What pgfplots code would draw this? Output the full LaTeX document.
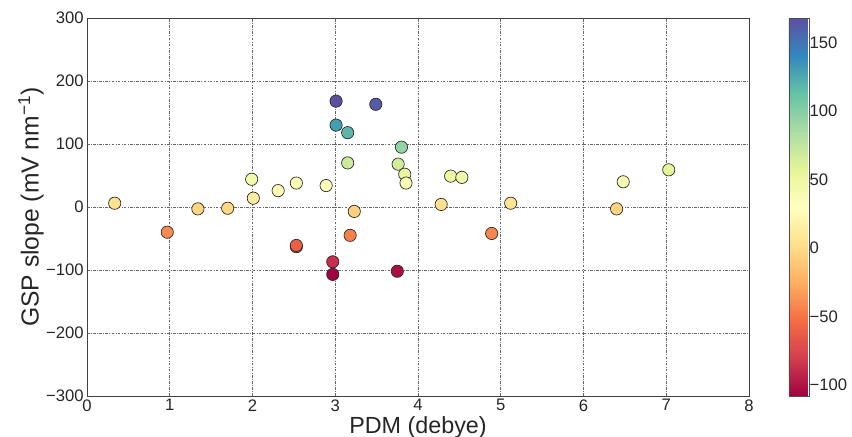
\documentclass[border=0pt]{standalone}
\usepackage{fontspec}
\setmainfont{Liberation Sans}
\usepackage{pgfplots}
\pgfplotsset{compat=1.18}

% matplotlib "Spectral"
\pgfplotsset{colormap={spectral}{
  rgb255=(158,1,66) rgb255=(213,62,79) rgb255=(244,109,67) rgb255=(253,174,97)
  rgb255=(254,224,139) rgb255=(255,255,191) rgb255=(230,245,152) rgb255=(171,221,164)
  rgb255=(102,194,165) rgb255=(50,136,189) rgb255=(94,79,162)}}

\begin{document}
\begin{tikzpicture}
\begin{axis}[
    scale only axis,
    width=496.5pt, height=283.5pt,
    xmin=0, xmax=8, ymin=-300, ymax=300,
    xtick={0,1,...,8},
    ytick={-300,-200,...,300},
    yticklabels={−300,−200,−100,0,100,200,300},
    /pgf/number format/assume math mode=true,
    ticklabel style={font=\fontsize{12.5}{14}\selectfont, text=black!85},
    major tick length=0pt,
    xticklabel style={yshift=1pt},
    yticklabel style={xshift=1pt},
    grid=major,
    major grid style={black!60, line width=0.4pt, dash pattern=on 2pt off 1pt on 0.6pt off 1pt},
    axis line style={black!75, line width=0.6pt},
    xlabel={PDM (debye)},
    ylabel={GSP slope (mV nm\textsuperscript{−1})},
    xlabel style={font=\fontsize{17.5}{20}\selectfont, text=black!85,
        at={(axis description cs:0.5,-0.082)}, anchor=center},
    ylabel style={font=\fontsize{18.5}{21}\selectfont, text=black!85,
        at={(axis description cs:-0.0846,0.5)}, anchor=center},
    colormap name=spectral,
    point meta min=-108, point meta max=168,
    colorbar,
    colorbar style={
        at={(1.0604,1)}, anchor=north west,
        width=15pt,
        ytick={-100,-50,...,150},
        yticklabels={−100,−50,0,50,100,150},
        major tick length=0pt,
        yticklabel style={font=\fontsize{12.5}{14}\selectfont, text=black!85, xshift=-3pt},
        axis line style={black!70, line width=0.5pt},
    },
]
\addplot[scatter, only marks, scatter src=explicit,
    mark=*, mark size=4.6pt,
    scatter/use mapped color={draw=black!85, fill=mapped color},
    mark options={line width=0.5pt}]
table[meta index=1] {
x y
0.335 6
0.97 -40
1.34 -3
1.70 -2
1.99 44
2.01 14
2.31 26
2.53 38
2.53 -63
2.53 -61
2.89 34
2.97 -87
2.97 -107
3.01 168
3.01 130
3.15 118
3.15 70
3.18 -45
3.23 -7
3.49 163
3.75 -102
3.76 68
3.80 95
3.84 52
3.855 38
4.28 4
4.395 49
4.53 47
4.89 -42
5.12 6
6.40 -3
6.48 40
7.03 59
};
\end{axis}
\pgfresetboundingbox
\path[use as bounding box]
    ([xshift=-65.25pt,yshift=-30.75pt]current axis.south west)
    rectangle ([xshift=77.25pt,yshift=13.5pt]current axis.north east);
\end{tikzpicture}
\end{document}
